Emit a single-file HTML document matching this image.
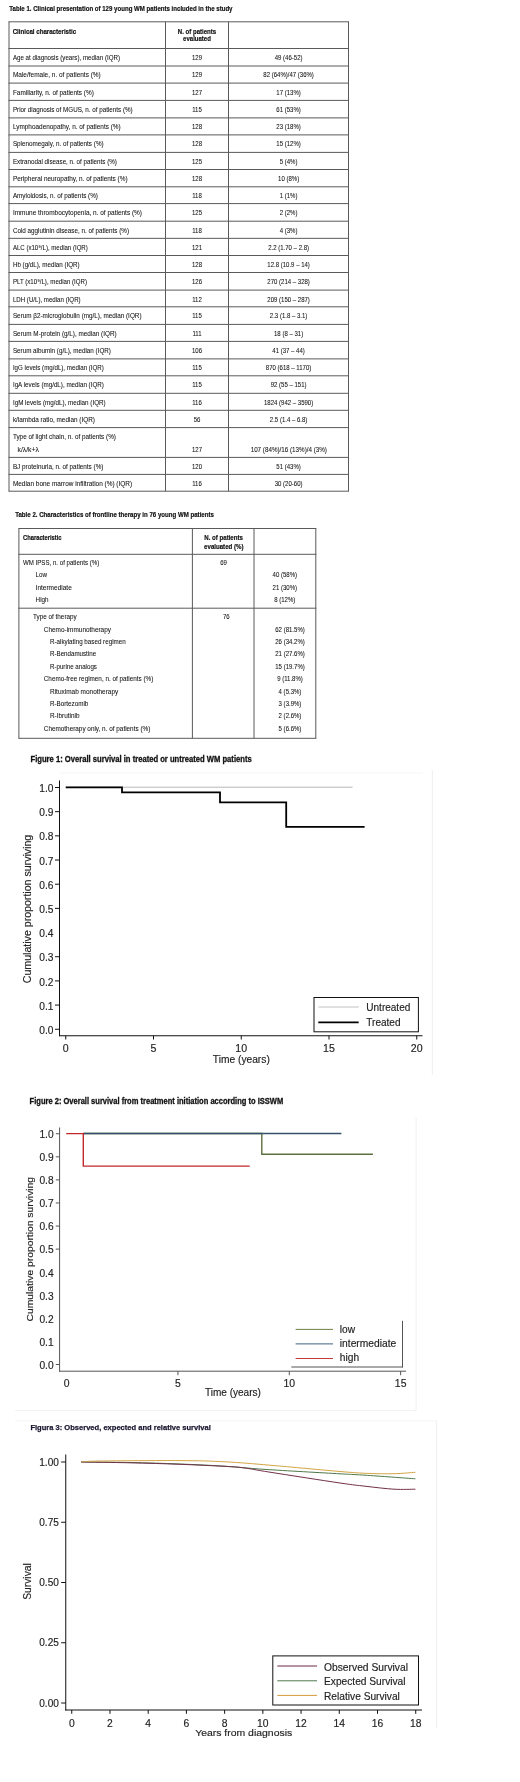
<!DOCTYPE html>
<html><head><meta charset="utf-8"><title>WM patients</title>
<style>
html,body{margin:0;padding:0;background:#fff;}
body{width:520px;height:1782px;overflow:hidden;}
svg{display:block;filter:blur(0.3px);font-family:"Liberation Sans",sans-serif;}
</style></head>
<body>
<svg width="520" height="1782" viewBox="0 0 520 1782" fill="#111">
<rect width="520" height="1782" fill="#fff"/>
<text x="9.3" y="11.2" font-size="6.9" font-weight="bold" textLength="223.2" lengthAdjust="spacingAndGlyphs"  stroke="#111" stroke-width="0.18">Table 1. Clinical presentation of 129 young WM patients included in the study</text>
<line x1="8.5" y1="21.8" x2="349.0" y2="21.8" stroke="#5a5a5a" stroke-width="1.0" />
<line x1="8.5" y1="48.5" x2="349.0" y2="48.5" stroke="#5a5a5a" stroke-width="1.0" />
<line x1="8.5" y1="66" x2="349.0" y2="66" stroke="#5a5a5a" stroke-width="1.0" />
<line x1="8.5" y1="83.1" x2="349.0" y2="83.1" stroke="#5a5a5a" stroke-width="1.0" />
<line x1="8.5" y1="100.4" x2="349.0" y2="100.4" stroke="#5a5a5a" stroke-width="1.0" />
<line x1="8.5" y1="117.9" x2="349.0" y2="117.9" stroke="#5a5a5a" stroke-width="1.0" />
<line x1="8.5" y1="134.9" x2="349.0" y2="134.9" stroke="#5a5a5a" stroke-width="1.0" />
<line x1="8.5" y1="152.4" x2="349.0" y2="152.4" stroke="#5a5a5a" stroke-width="1.0" />
<line x1="8.5" y1="169.5" x2="349.0" y2="169.5" stroke="#5a5a5a" stroke-width="1.0" />
<line x1="8.5" y1="186.8" x2="349.0" y2="186.8" stroke="#5a5a5a" stroke-width="1.0" />
<line x1="8.5" y1="203.6" x2="349.0" y2="203.6" stroke="#5a5a5a" stroke-width="1.0" />
<line x1="8.5" y1="221.2" x2="349.0" y2="221.2" stroke="#5a5a5a" stroke-width="1.0" />
<line x1="8.5" y1="238.35" x2="349.0" y2="238.35" stroke="#5a5a5a" stroke-width="1.0" />
<line x1="8.5" y1="255.5" x2="349.0" y2="255.5" stroke="#5a5a5a" stroke-width="1.0" />
<line x1="8.5" y1="272.5" x2="349.0" y2="272.5" stroke="#5a5a5a" stroke-width="1.0" />
<line x1="8.5" y1="290.1" x2="349.0" y2="290.1" stroke="#5a5a5a" stroke-width="1.0" />
<line x1="8.5" y1="306.8" x2="349.0" y2="306.8" stroke="#5a5a5a" stroke-width="1.0" />
<line x1="8.5" y1="324.4" x2="349.0" y2="324.4" stroke="#5a5a5a" stroke-width="1.0" />
<line x1="8.5" y1="341.4" x2="349.0" y2="341.4" stroke="#5a5a5a" stroke-width="1.0" />
<line x1="8.5" y1="358.9" x2="349.0" y2="358.9" stroke="#5a5a5a" stroke-width="1.0" />
<line x1="8.5" y1="375.8" x2="349.0" y2="375.8" stroke="#5a5a5a" stroke-width="1.0" />
<line x1="8.5" y1="393.3" x2="349.0" y2="393.3" stroke="#5a5a5a" stroke-width="1.0" />
<line x1="8.5" y1="410.3" x2="349.0" y2="410.3" stroke="#5a5a5a" stroke-width="1.0" />
<line x1="8.5" y1="427.6" x2="349.0" y2="427.6" stroke="#5a5a5a" stroke-width="1.0" />
<line x1="8.5" y1="457.4" x2="349.0" y2="457.4" stroke="#5a5a5a" stroke-width="1.0" />
<line x1="8.5" y1="474.4" x2="349.0" y2="474.4" stroke="#5a5a5a" stroke-width="1.0" />
<line x1="8.5" y1="491.2" x2="349.0" y2="491.2" stroke="#5a5a5a" stroke-width="1.0" />
<line x1="9.0" y1="21.8" x2="9.0" y2="491.2" stroke="#5a5a5a" stroke-width="1.0" />
<line x1="165.5" y1="21.8" x2="165.5" y2="491.2" stroke="#5a5a5a" stroke-width="1.0" />
<line x1="228.5" y1="21.8" x2="228.5" y2="491.2" stroke="#5a5a5a" stroke-width="1.0" />
<line x1="348.5" y1="21.8" x2="348.5" y2="491.2" stroke="#5a5a5a" stroke-width="1.0" />
<text x="12.7" y="33.8" font-size="6.9" font-weight="bold" textLength="63.5" lengthAdjust="spacingAndGlyphs"  stroke="#111" stroke-width="0.18">Clinical characteristic</text>
<text x="197" y="33.6" font-size="6.9" font-weight="bold" text-anchor="middle" textLength="38.3" lengthAdjust="spacingAndGlyphs"  stroke="#111" stroke-width="0.18">N. of patients</text>
<text x="197" y="41.2" font-size="6.9" font-weight="bold" text-anchor="middle" textLength="27.8" lengthAdjust="spacingAndGlyphs"  stroke="#111" stroke-width="0.18">evaluated</text>
<text x="12.9" y="59.9" font-size="6.7" textLength="107.1" lengthAdjust="spacingAndGlyphs"  stroke="#111" stroke-width="0.06">Age at diagnosis (years), median (IQR)</text>
<text x="197" y="59.9" font-size="6.7" text-anchor="middle" textLength="10.06" lengthAdjust="spacingAndGlyphs"  stroke="#111" stroke-width="0.06">129</text>
<text x="288.6" y="59.9" font-size="6.7" text-anchor="middle" textLength="27.82" lengthAdjust="spacingAndGlyphs"  stroke="#111" stroke-width="0.06">49 (46-52)</text>
<text x="12.9" y="77.4" font-size="6.7" textLength="87.9" lengthAdjust="spacingAndGlyphs"  stroke="#111" stroke-width="0.06">Male/female, n. of patients (%)</text>
<text x="197" y="77.4" font-size="6.7" text-anchor="middle" textLength="10.06" lengthAdjust="spacingAndGlyphs"  stroke="#111" stroke-width="0.06">129</text>
<text x="288.6" y="77.4" font-size="6.7" text-anchor="middle" textLength="50.61" lengthAdjust="spacingAndGlyphs"  stroke="#111" stroke-width="0.06">82 (64%)/47 (36%)</text>
<text x="12.9" y="94.5" font-size="6.7" textLength="80.9" lengthAdjust="spacingAndGlyphs"  stroke="#111" stroke-width="0.06">Familiarity, n. of patients (%)</text>
<text x="197" y="94.5" font-size="6.7" text-anchor="middle" textLength="10.06" lengthAdjust="spacingAndGlyphs"  stroke="#111" stroke-width="0.06">127</text>
<text x="288.6" y="94.5" font-size="6.7" text-anchor="middle" textLength="24.47" lengthAdjust="spacingAndGlyphs"  stroke="#111" stroke-width="0.06">17 (13%)</text>
<text x="12.9" y="111.8" font-size="6.7" textLength="119.8" lengthAdjust="spacingAndGlyphs"  stroke="#111" stroke-width="0.06">Prior diagnosis of MGUS, n. of patients (%)</text>
<text x="197" y="111.8" font-size="6.7" text-anchor="middle" textLength="9.61" lengthAdjust="spacingAndGlyphs"  stroke="#111" stroke-width="0.06">115</text>
<text x="288.6" y="111.8" font-size="6.7" text-anchor="middle" textLength="24.47" lengthAdjust="spacingAndGlyphs"  stroke="#111" stroke-width="0.06">61 (53%)</text>
<text x="12.9" y="129.3" font-size="6.7" textLength="107.8" lengthAdjust="spacingAndGlyphs"  stroke="#111" stroke-width="0.06">Lymphoadenopathy, n. of patients (%)</text>
<text x="197" y="129.3" font-size="6.7" text-anchor="middle" textLength="10.06" lengthAdjust="spacingAndGlyphs"  stroke="#111" stroke-width="0.06">128</text>
<text x="288.6" y="129.3" font-size="6.7" text-anchor="middle" textLength="24.47" lengthAdjust="spacingAndGlyphs"  stroke="#111" stroke-width="0.06">23 (18%)</text>
<text x="12.9" y="146.3" font-size="6.7" textLength="90.7" lengthAdjust="spacingAndGlyphs"  stroke="#111" stroke-width="0.06">Splenomegaly, n. of patients (%)</text>
<text x="197" y="146.3" font-size="6.7" text-anchor="middle" textLength="10.06" lengthAdjust="spacingAndGlyphs"  stroke="#111" stroke-width="0.06">128</text>
<text x="288.6" y="146.3" font-size="6.7" text-anchor="middle" textLength="24.47" lengthAdjust="spacingAndGlyphs"  stroke="#111" stroke-width="0.06">15 (12%)</text>
<text x="12.9" y="163.8" font-size="6.7" textLength="104.0" lengthAdjust="spacingAndGlyphs"  stroke="#111" stroke-width="0.06">Extranodal disease, n. of patients (%)</text>
<text x="197" y="163.8" font-size="6.7" text-anchor="middle" textLength="10.06" lengthAdjust="spacingAndGlyphs"  stroke="#111" stroke-width="0.06">125</text>
<text x="288.6" y="163.8" font-size="6.7" text-anchor="middle" textLength="17.76" lengthAdjust="spacingAndGlyphs"  stroke="#111" stroke-width="0.06">5 (4%)</text>
<text x="12.9" y="180.9" font-size="6.7" textLength="114.7" lengthAdjust="spacingAndGlyphs"  stroke="#111" stroke-width="0.06">Peripheral neuropathy, n. of patients (%)</text>
<text x="197" y="180.9" font-size="6.7" text-anchor="middle" textLength="10.06" lengthAdjust="spacingAndGlyphs"  stroke="#111" stroke-width="0.06">128</text>
<text x="288.6" y="180.9" font-size="6.7" text-anchor="middle" textLength="21.11" lengthAdjust="spacingAndGlyphs"  stroke="#111" stroke-width="0.06">10 (8%)</text>
<text x="12.9" y="198.2" font-size="6.7" textLength="85.0" lengthAdjust="spacingAndGlyphs"  stroke="#111" stroke-width="0.06">Amyloidosis, n. of patients (%)</text>
<text x="197" y="198.2" font-size="6.7" text-anchor="middle" textLength="9.61" lengthAdjust="spacingAndGlyphs"  stroke="#111" stroke-width="0.06">118</text>
<text x="288.6" y="198.2" font-size="6.7" text-anchor="middle" textLength="17.76" lengthAdjust="spacingAndGlyphs"  stroke="#111" stroke-width="0.06">1 (1%)</text>
<text x="12.9" y="215.0" font-size="6.7" textLength="129.1" lengthAdjust="spacingAndGlyphs"  stroke="#111" stroke-width="0.06">Immune thrombocytopenia, n. of patients (%)</text>
<text x="197" y="215.0" font-size="6.7" text-anchor="middle" textLength="10.06" lengthAdjust="spacingAndGlyphs"  stroke="#111" stroke-width="0.06">125</text>
<text x="288.6" y="215.0" font-size="6.7" text-anchor="middle" textLength="17.76" lengthAdjust="spacingAndGlyphs"  stroke="#111" stroke-width="0.06">2 (2%)</text>
<text x="12.9" y="232.6" font-size="6.7" textLength="116.1" lengthAdjust="spacingAndGlyphs"  stroke="#111" stroke-width="0.06">Cold agglutinin disease, n. of patients (%)</text>
<text x="197" y="232.6" font-size="6.7" text-anchor="middle" textLength="9.61" lengthAdjust="spacingAndGlyphs"  stroke="#111" stroke-width="0.06">118</text>
<text x="288.6" y="232.6" font-size="6.7" text-anchor="middle" textLength="17.76" lengthAdjust="spacingAndGlyphs"  stroke="#111" stroke-width="0.06">4 (3%)</text>
<text x="12.9" y="249.75" font-size="6.7" textLength="74.9" lengthAdjust="spacingAndGlyphs"  stroke="#111" stroke-width="0.06">ALC (x10⁹/L), median (IQR)</text>
<text x="197" y="249.75" font-size="6.7" text-anchor="middle" textLength="10.06" lengthAdjust="spacingAndGlyphs"  stroke="#111" stroke-width="0.06">121</text>
<text x="288.6" y="249.75" font-size="6.7" text-anchor="middle" textLength="40.9" lengthAdjust="spacingAndGlyphs"  stroke="#111" stroke-width="0.06">2.2 (1.70 – 2.8)</text>
<text x="12.9" y="266.9" font-size="6.7" textLength="66.8" lengthAdjust="spacingAndGlyphs"  stroke="#111" stroke-width="0.06">Hb (g/dL), median (IQR)</text>
<text x="197" y="266.9" font-size="6.7" text-anchor="middle" textLength="10.06" lengthAdjust="spacingAndGlyphs"  stroke="#111" stroke-width="0.06">128</text>
<text x="288.6" y="266.9" font-size="6.7" text-anchor="middle" textLength="42.58" lengthAdjust="spacingAndGlyphs"  stroke="#111" stroke-width="0.06">12.8 (10.9 – 14)</text>
<text x="12.9" y="283.9" font-size="6.7" textLength="74.1" lengthAdjust="spacingAndGlyphs"  stroke="#111" stroke-width="0.06">PLT (x10⁹/L), median (IQR)</text>
<text x="197" y="283.9" font-size="6.7" text-anchor="middle" textLength="10.06" lengthAdjust="spacingAndGlyphs"  stroke="#111" stroke-width="0.06">126</text>
<text x="288.6" y="283.9" font-size="6.7" text-anchor="middle" textLength="42.58" lengthAdjust="spacingAndGlyphs"  stroke="#111" stroke-width="0.06">270 (214 – 328)</text>
<text x="12.9" y="301.5" font-size="6.7" textLength="67.7" lengthAdjust="spacingAndGlyphs"  stroke="#111" stroke-width="0.06">LDH (U/L), median (IQR)</text>
<text x="197" y="301.5" font-size="6.7" text-anchor="middle" textLength="9.61" lengthAdjust="spacingAndGlyphs"  stroke="#111" stroke-width="0.06">112</text>
<text x="288.6" y="301.5" font-size="6.7" text-anchor="middle" textLength="42.58" lengthAdjust="spacingAndGlyphs"  stroke="#111" stroke-width="0.06">209 (150 – 287)</text>
<text x="12.9" y="318.2" font-size="6.7" textLength="128.6" lengthAdjust="spacingAndGlyphs"  stroke="#111" stroke-width="0.06">Serum β2-microglobulin (mg/L), median (IQR)</text>
<text x="197" y="318.2" font-size="6.7" text-anchor="middle" textLength="9.61" lengthAdjust="spacingAndGlyphs"  stroke="#111" stroke-width="0.06">115</text>
<text x="288.6" y="318.2" font-size="6.7" text-anchor="middle" textLength="37.54" lengthAdjust="spacingAndGlyphs"  stroke="#111" stroke-width="0.06">2.3 (1.8 – 3.1)</text>
<text x="12.9" y="335.8" font-size="6.7" textLength="103.7" lengthAdjust="spacingAndGlyphs"  stroke="#111" stroke-width="0.06">Serum M-protein (g/L), median (IQR)</text>
<text x="197" y="335.8" font-size="6.7" text-anchor="middle" textLength="9.17" lengthAdjust="spacingAndGlyphs"  stroke="#111" stroke-width="0.06">111</text>
<text x="288.6" y="335.8" font-size="6.7" text-anchor="middle" textLength="29.16" lengthAdjust="spacingAndGlyphs"  stroke="#111" stroke-width="0.06">18 (8 – 31)</text>
<text x="12.9" y="352.8" font-size="6.7" textLength="98.0" lengthAdjust="spacingAndGlyphs"  stroke="#111" stroke-width="0.06">Serum albumin (g/L), median (IQR)</text>
<text x="197" y="352.8" font-size="6.7" text-anchor="middle" textLength="10.06" lengthAdjust="spacingAndGlyphs"  stroke="#111" stroke-width="0.06">106</text>
<text x="288.6" y="352.8" font-size="6.7" text-anchor="middle" textLength="32.52" lengthAdjust="spacingAndGlyphs"  stroke="#111" stroke-width="0.06">41 (37 – 44)</text>
<text x="12.9" y="370.3" font-size="6.7" textLength="91.0" lengthAdjust="spacingAndGlyphs"  stroke="#111" stroke-width="0.06">IgG levels (mg/dL), median (IQR)</text>
<text x="197" y="370.3" font-size="6.7" text-anchor="middle" textLength="9.61" lengthAdjust="spacingAndGlyphs"  stroke="#111" stroke-width="0.06">115</text>
<text x="288.6" y="370.3" font-size="6.7" text-anchor="middle" textLength="45.48" lengthAdjust="spacingAndGlyphs"  stroke="#111" stroke-width="0.06">870 (618 – 1170)</text>
<text x="12.9" y="387.2" font-size="6.7" textLength="91.0" lengthAdjust="spacingAndGlyphs"  stroke="#111" stroke-width="0.06">IgA levels (mg/dL), median (IQR)</text>
<text x="197" y="387.2" font-size="6.7" text-anchor="middle" textLength="9.61" lengthAdjust="spacingAndGlyphs"  stroke="#111" stroke-width="0.06">115</text>
<text x="288.6" y="387.2" font-size="6.7" text-anchor="middle" textLength="35.87" lengthAdjust="spacingAndGlyphs"  stroke="#111" stroke-width="0.06">92 (55 – 151)</text>
<text x="12.9" y="404.7" font-size="6.7" textLength="92.8" lengthAdjust="spacingAndGlyphs"  stroke="#111" stroke-width="0.06">IgM levels (mg/dL), median (IQR)</text>
<text x="197" y="404.7" font-size="6.7" text-anchor="middle" textLength="9.61" lengthAdjust="spacingAndGlyphs"  stroke="#111" stroke-width="0.06">116</text>
<text x="288.6" y="404.7" font-size="6.7" text-anchor="middle" textLength="49.29" lengthAdjust="spacingAndGlyphs"  stroke="#111" stroke-width="0.06">1824 (942 – 3590)</text>
<text x="12.9" y="421.7" font-size="6.7" textLength="82.0" lengthAdjust="spacingAndGlyphs"  stroke="#111" stroke-width="0.06">k/lambda ratio, median (IQR)</text>
<text x="197" y="421.7" font-size="6.7" text-anchor="middle" textLength="6.71" lengthAdjust="spacingAndGlyphs"  stroke="#111" stroke-width="0.06">56</text>
<text x="288.6" y="421.7" font-size="6.7" text-anchor="middle" textLength="37.54" lengthAdjust="spacingAndGlyphs"  stroke="#111" stroke-width="0.06">2.5 (1.4 – 6.8)</text>
<text x="12.9" y="439.2" font-size="6.7" textLength="103.1" lengthAdjust="spacingAndGlyphs"  stroke="#111" stroke-width="0.06">Type of light chain, n. of patients (%)</text>
<text x="17.6" y="451.6" font-size="6.7" textLength="21.2" lengthAdjust="spacingAndGlyphs"  stroke="#111" stroke-width="0.06">k/λ/k+λ</text>
<text x="197" y="451.8" font-size="6.7" text-anchor="middle" textLength="10.06" lengthAdjust="spacingAndGlyphs"  stroke="#111" stroke-width="0.06">127</text>
<text x="288.8" y="451.8" font-size="6.7" text-anchor="middle" textLength="76.3" lengthAdjust="spacingAndGlyphs"  stroke="#111" stroke-width="0.06">107 (84%)/16 (13%)/4 (3%)</text>
<text x="12.9" y="468.8" font-size="6.7" textLength="90.5" lengthAdjust="spacingAndGlyphs"  stroke="#111" stroke-width="0.06">BJ proteinuria, n. of patients (%)</text>
<text x="197" y="468.8" font-size="6.7" text-anchor="middle" textLength="10.06" lengthAdjust="spacingAndGlyphs"  stroke="#111" stroke-width="0.06">120</text>
<text x="288.6" y="468.8" font-size="6.7" text-anchor="middle" textLength="24.47" lengthAdjust="spacingAndGlyphs"  stroke="#111" stroke-width="0.06">51 (43%)</text>
<text x="12.9" y="485.8" font-size="6.7" textLength="119.2" lengthAdjust="spacingAndGlyphs"  stroke="#111" stroke-width="0.06">Median bone marrow infiltration (%) (IQR)</text>
<text x="197" y="485.8" font-size="6.7" text-anchor="middle" textLength="9.61" lengthAdjust="spacingAndGlyphs"  stroke="#111" stroke-width="0.06">116</text>
<text x="288.6" y="485.8" font-size="6.7" text-anchor="middle" textLength="27.82" lengthAdjust="spacingAndGlyphs"  stroke="#111" stroke-width="0.06">30 (20-60)</text>
<text x="15.2" y="517.1" font-size="6.9" font-weight="bold" textLength="198.7" lengthAdjust="spacingAndGlyphs"  stroke="#111" stroke-width="0.18">Table 2. Characteristics of frontline therapy in 76 young WM patients</text>
<line x1="18.4" y1="528.5" x2="316.3" y2="528.5" stroke="#5a5a5a" stroke-width="1.0" />
<line x1="18.4" y1="554.3" x2="316.3" y2="554.3" stroke="#5a5a5a" stroke-width="1.0" />
<line x1="18.4" y1="608.2" x2="316.3" y2="608.2" stroke="#5a5a5a" stroke-width="1.0" />
<line x1="18.4" y1="738.3" x2="316.3" y2="738.3" stroke="#5a5a5a" stroke-width="1.0" />
<line x1="18.9" y1="528.5" x2="18.9" y2="738.3" stroke="#5a5a5a" stroke-width="1.0" />
<line x1="192.4" y1="528.5" x2="192.4" y2="738.3" stroke="#5a5a5a" stroke-width="1.0" />
<line x1="254.0" y1="528.5" x2="254.0" y2="738.3" stroke="#5a5a5a" stroke-width="1.0" />
<line x1="315.8" y1="528.5" x2="315.8" y2="738.3" stroke="#5a5a5a" stroke-width="1.0" />
<text x="23" y="539.9" font-size="6.9" font-weight="bold" textLength="38.6" lengthAdjust="spacingAndGlyphs"  stroke="#111" stroke-width="0.18">Characteristic</text>
<text x="223.6" y="540.0" font-size="6.9" font-weight="bold" text-anchor="middle" textLength="38.6" lengthAdjust="spacingAndGlyphs"  stroke="#111" stroke-width="0.18">N. of patients</text>
<text x="223.8" y="548.5" font-size="6.9" font-weight="bold" text-anchor="middle" textLength="39.4" lengthAdjust="spacingAndGlyphs"  stroke="#111" stroke-width="0.18">evaluated (%)</text>
<text x="23" y="564.9" font-size="6.7" textLength="76.2" lengthAdjust="spacingAndGlyphs"  stroke="#111" stroke-width="0.06">WM IPSS, n. of patients (%)</text>
<text x="223.6" y="565.0" font-size="6.7" text-anchor="middle" textLength="6.71" lengthAdjust="spacingAndGlyphs"  stroke="#111" stroke-width="0.06">69</text>
<text x="35.6" y="577.4" font-size="6.7" textLength="11.52" lengthAdjust="spacingAndGlyphs"  stroke="#111" stroke-width="0.06">Low</text>
<text x="284.8" y="577.4" font-size="6.7" text-anchor="middle" textLength="24.47" lengthAdjust="spacingAndGlyphs"  stroke="#111" stroke-width="0.06">40 (58%)</text>
<text x="35.6" y="589.9" font-size="6.7" textLength="36.2" lengthAdjust="spacingAndGlyphs"  stroke="#111" stroke-width="0.06">Intermediate</text>
<text x="284.8" y="589.9" font-size="6.7" text-anchor="middle" textLength="24.47" lengthAdjust="spacingAndGlyphs"  stroke="#111" stroke-width="0.06">21 (30%)</text>
<text x="35.6" y="602.3" font-size="6.7" textLength="12.92" lengthAdjust="spacingAndGlyphs"  stroke="#111" stroke-width="0.06">High</text>
<text x="284.8" y="602.3" font-size="6.7" text-anchor="middle" textLength="21.11" lengthAdjust="spacingAndGlyphs"  stroke="#111" stroke-width="0.06">8 (12%)</text>
<text x="33.1" y="619.2" font-size="6.7" textLength="43.6" lengthAdjust="spacingAndGlyphs"  stroke="#111" stroke-width="0.06">Type of therapy</text>
<text x="226.3" y="619.2" font-size="6.7" text-anchor="middle" textLength="6.71" lengthAdjust="spacingAndGlyphs"  stroke="#111" stroke-width="0.06">76</text>
<text x="43.8" y="631.5" font-size="6.7" textLength="67.2" lengthAdjust="spacingAndGlyphs"  stroke="#111" stroke-width="0.06">Chemo-immunotherapy</text>
<text x="290.0" y="631.5" font-size="6.7" text-anchor="middle" textLength="29.5" lengthAdjust="spacingAndGlyphs"  stroke="#111" stroke-width="0.06">62 (81.5%)</text>
<text x="50" y="643.91" font-size="6.7" textLength="75.7" lengthAdjust="spacingAndGlyphs"  stroke="#111" stroke-width="0.06">R-alkylating based regimen</text>
<text x="290.0" y="643.91" font-size="6.7" text-anchor="middle" textLength="29.5" lengthAdjust="spacingAndGlyphs"  stroke="#111" stroke-width="0.06">26 (34.2%)</text>
<text x="50" y="656.32" font-size="6.7" textLength="46.1" lengthAdjust="spacingAndGlyphs"  stroke="#111" stroke-width="0.06">R-Bendamustine</text>
<text x="290.0" y="656.32" font-size="6.7" text-anchor="middle" textLength="29.5" lengthAdjust="spacingAndGlyphs"  stroke="#111" stroke-width="0.06">21 (27.6%)</text>
<text x="50" y="668.73" font-size="6.7" textLength="46.9" lengthAdjust="spacingAndGlyphs"  stroke="#111" stroke-width="0.06">R-purine analogs</text>
<text x="290.0" y="668.73" font-size="6.7" text-anchor="middle" textLength="29.5" lengthAdjust="spacingAndGlyphs"  stroke="#111" stroke-width="0.06">15 (19.7%)</text>
<text x="43.8" y="681.14" font-size="6.7" textLength="109.5" lengthAdjust="spacingAndGlyphs"  stroke="#111" stroke-width="0.06">Chemo-free regimen, n. of patients (%)</text>
<text x="290.0" y="681.14" font-size="6.7" text-anchor="middle" textLength="25.7" lengthAdjust="spacingAndGlyphs"  stroke="#111" stroke-width="0.06">9 (11.8%)</text>
<text x="50" y="693.55" font-size="6.7" textLength="68.3" lengthAdjust="spacingAndGlyphs"  stroke="#111" stroke-width="0.06">Rituximab monotherapy</text>
<text x="290.0" y="693.55" font-size="6.7" text-anchor="middle" textLength="22.79" lengthAdjust="spacingAndGlyphs"  stroke="#111" stroke-width="0.06">4 (5.3%)</text>
<text x="50" y="705.96" font-size="6.7" textLength="38.3" lengthAdjust="spacingAndGlyphs"  stroke="#111" stroke-width="0.06">R-Bortezomib</text>
<text x="290.0" y="705.96" font-size="6.7" text-anchor="middle" textLength="22.79" lengthAdjust="spacingAndGlyphs"  stroke="#111" stroke-width="0.06">3 (3.9%)</text>
<text x="50" y="718.37" font-size="6.7" textLength="29.5" lengthAdjust="spacingAndGlyphs"  stroke="#111" stroke-width="0.06">R-Ibrutinib</text>
<text x="290.0" y="718.37" font-size="6.7" text-anchor="middle" textLength="22.79" lengthAdjust="spacingAndGlyphs"  stroke="#111" stroke-width="0.06">2 (2.6%)</text>
<text x="43.8" y="730.78" font-size="6.7" textLength="106.5" lengthAdjust="spacingAndGlyphs"  stroke="#111" stroke-width="0.06">Chemotherapy only, n. of patients (%)</text>
<text x="290.0" y="730.78" font-size="6.7" text-anchor="middle" textLength="22.79" lengthAdjust="spacingAndGlyphs"  stroke="#111" stroke-width="0.06">5 (6.6%)</text>
<text x="30.5" y="761.9" font-size="8.6" font-weight="bold" textLength="221.2" lengthAdjust="spacingAndGlyphs"  stroke="#111" stroke-width="0.3">Figure 1: Overall survival in treated or untreated WM patients</text>
<line x1="432.3" y1="770" x2="432.3" y2="1075" stroke="#eeeeee" stroke-width="1"/>
<line x1="60" y1="773" x2="422.6" y2="773" stroke="#f6f6f6" stroke-width="1"/>
<line x1="59.5" y1="780.5" x2="59.5" y2="1036.25" stroke="#111" stroke-width="1.0" />
<line x1="59.0" y1="1035.75" x2="422.5" y2="1035.75" stroke="#111" stroke-width="1.0" />
<line x1="55.0" y1="787.5" x2="59.5" y2="787.5" stroke="#111" stroke-width="1.0" />
<text x="53.4" y="792.1" font-size="10.2" text-anchor="end" fill="#222" stroke="#222" stroke-width="0.15">1.0</text>
<line x1="55.0" y1="811.67" x2="59.5" y2="811.67" stroke="#111" stroke-width="1.0" />
<text x="53.4" y="816.27" font-size="10.2" text-anchor="end" fill="#222" stroke="#222" stroke-width="0.15">0.9</text>
<line x1="55.0" y1="835.85" x2="59.5" y2="835.85" stroke="#111" stroke-width="1.0" />
<text x="53.4" y="840.45" font-size="10.2" text-anchor="end" fill="#222" stroke="#222" stroke-width="0.15">0.8</text>
<line x1="55.0" y1="860.02" x2="59.5" y2="860.02" stroke="#111" stroke-width="1.0" />
<text x="53.4" y="864.62" font-size="10.2" text-anchor="end" fill="#222" stroke="#222" stroke-width="0.15">0.7</text>
<line x1="55.0" y1="884.2" x2="59.5" y2="884.2" stroke="#111" stroke-width="1.0" />
<text x="53.4" y="888.8" font-size="10.2" text-anchor="end" fill="#222" stroke="#222" stroke-width="0.15">0.6</text>
<line x1="55.0" y1="908.38" x2="59.5" y2="908.38" stroke="#111" stroke-width="1.0" />
<text x="53.4" y="912.98" font-size="10.2" text-anchor="end" fill="#222" stroke="#222" stroke-width="0.15">0.5</text>
<text x="53.4" y="937.15" font-size="10.2" text-anchor="end" fill="#222" stroke="#222" stroke-width="0.15">0.4</text>
<line x1="55.0" y1="956.73" x2="59.5" y2="956.73" stroke="#111" stroke-width="1.0" />
<text x="53.4" y="961.33" font-size="10.2" text-anchor="end" fill="#222" stroke="#222" stroke-width="0.15">0.3</text>
<line x1="55.0" y1="980.9" x2="59.5" y2="980.9" stroke="#111" stroke-width="1.0" />
<text x="53.4" y="985.5" font-size="10.2" text-anchor="end" fill="#222" stroke="#222" stroke-width="0.15">0.2</text>
<line x1="55.0" y1="1005.08" x2="59.5" y2="1005.08" stroke="#111" stroke-width="1.0" />
<text x="53.4" y="1009.68" font-size="10.2" text-anchor="end" fill="#222" stroke="#222" stroke-width="0.15">0.1</text>
<line x1="55.0" y1="1029.25" x2="59.5" y2="1029.25" stroke="#111" stroke-width="1.0" />
<text x="53.4" y="1033.85" font-size="10.2" text-anchor="end" fill="#222" stroke="#222" stroke-width="0.15">0.0</text>
<line x1="65.75" y1="1035.75" x2="65.75" y2="1039.5" stroke="#111" stroke-width="1.0" />
<text x="65.75" y="1052.3" font-size="10.6" text-anchor="middle" fill="#222" stroke="#222" stroke-width="0.15">0</text>
<line x1="153.5" y1="1035.75" x2="153.5" y2="1039.5" stroke="#111" stroke-width="1.0" />
<text x="153.5" y="1052.3" font-size="10.6" text-anchor="middle" fill="#222" stroke="#222" stroke-width="0.15">5</text>
<line x1="241.25" y1="1035.75" x2="241.25" y2="1039.5" stroke="#111" stroke-width="1.0" />
<text x="241.25" y="1052.3" font-size="10.6" text-anchor="middle" fill="#222" stroke="#222" stroke-width="0.15">10</text>
<line x1="329.0" y1="1035.75" x2="329.0" y2="1039.5" stroke="#111" stroke-width="1.0" />
<text x="329.0" y="1052.3" font-size="10.6" text-anchor="middle" fill="#222" stroke="#222" stroke-width="0.15">15</text>
<line x1="416.75" y1="1035.75" x2="416.75" y2="1039.5" stroke="#111" stroke-width="1.0" />
<text x="416.75" y="1052.3" font-size="10.6" text-anchor="middle" fill="#222" stroke="#222" stroke-width="0.15">20</text>
<text x="241.3" y="1062.6" font-size="10.2" text-anchor="middle" textLength="57" lengthAdjust="spacingAndGlyphs" fill="#222" stroke="#222" stroke-width="0.15">Time (years)</text>
<text x="30.8" y="909" font-size="10.0" text-anchor="middle" textLength="148.5" lengthAdjust="spacingAndGlyphs" fill="#222" stroke="#222" stroke-width="0.15" transform="rotate(-90 30.8 909)">Cumulative proportion surviving</text>
<polyline points="65.75,787.2 352.5,787.2" fill="none" stroke="#b8b8b8" stroke-width="1.0" />
<polyline points="65.75,787.3 122,787.3 122,792.3 220,792.3 220,802.4 286.2,802.4 286.2,826.8 364.6,826.8" fill="none" stroke="#000" stroke-width="1.8" />
<rect x="314" y="997.5" width="104.4" height="34.3" fill="none" stroke="#111" stroke-width="1"/>
<line x1="318.3" y1="1007" x2="358.7" y2="1007" stroke="#c0c0c0" stroke-width="1.0" />
<line x1="318.3" y1="1022.3" x2="358.7" y2="1022.3" stroke="#000" stroke-width="1.8" />
<text x="366.3" y="1011.4" font-size="10.2" textLength="44" lengthAdjust="spacingAndGlyphs" fill="#222" stroke="#222" stroke-width="0.15">Untreated</text>
<text x="366.3" y="1025.7" font-size="10.2" textLength="34.2" lengthAdjust="spacingAndGlyphs" fill="#222" stroke="#222" stroke-width="0.15">Treated</text>
<text x="29.6" y="1104.2" font-size="8.6" font-weight="bold" textLength="253.6" lengthAdjust="spacingAndGlyphs"  stroke="#111" stroke-width="0.3">Figure 2: Overall survival from treatment initiation according to ISSWM</text>
<line x1="416.1" y1="1117.8" x2="416.1" y2="1410.6" stroke="#efefef" stroke-width="1"/>
<line x1="15" y1="1410.6" x2="416.1" y2="1410.6" stroke="#f2f2f2" stroke-width="1"/>
<line x1="59.6" y1="1127.5" x2="59.6" y2="1371.7" stroke="#555" stroke-width="1.0" />
<line x1="59.1" y1="1371.2" x2="406" y2="1371.2" stroke="#555" stroke-width="1.0" />
<line x1="55.8" y1="1133.75" x2="59.6" y2="1133.75" stroke="#555" stroke-width="1.0" />
<text x="53.6" y="1138.05" font-size="10.2" text-anchor="end" fill="#222" stroke="#222" stroke-width="0.15">1.0</text>
<line x1="55.8" y1="1156.83" x2="59.6" y2="1156.83" stroke="#555" stroke-width="1.0" />
<text x="53.6" y="1161.13" font-size="10.2" text-anchor="end" fill="#222" stroke="#222" stroke-width="0.15">0.9</text>
<line x1="55.8" y1="1179.9" x2="59.6" y2="1179.9" stroke="#555" stroke-width="1.0" />
<text x="53.6" y="1184.2" font-size="10.2" text-anchor="end" fill="#222" stroke="#222" stroke-width="0.15">0.8</text>
<line x1="55.8" y1="1202.97" x2="59.6" y2="1202.97" stroke="#555" stroke-width="1.0" />
<text x="53.6" y="1207.27" font-size="10.2" text-anchor="end" fill="#222" stroke="#222" stroke-width="0.15">0.7</text>
<line x1="55.8" y1="1226.05" x2="59.6" y2="1226.05" stroke="#555" stroke-width="1.0" />
<text x="53.6" y="1230.35" font-size="10.2" text-anchor="end" fill="#222" stroke="#222" stroke-width="0.15">0.6</text>
<line x1="55.8" y1="1249.12" x2="59.6" y2="1249.12" stroke="#555" stroke-width="1.0" />
<text x="53.6" y="1253.42" font-size="10.2" text-anchor="end" fill="#222" stroke="#222" stroke-width="0.15">0.5</text>
<text x="53.6" y="1276.5" font-size="10.2" text-anchor="end" fill="#222" stroke="#222" stroke-width="0.15">0.4</text>
<text x="53.6" y="1299.58" font-size="10.2" text-anchor="end" fill="#222" stroke="#222" stroke-width="0.15">0.3</text>
<text x="53.6" y="1322.65" font-size="10.2" text-anchor="end" fill="#222" stroke="#222" stroke-width="0.15">0.2</text>
<text x="53.6" y="1345.72" font-size="10.2" text-anchor="end" fill="#222" stroke="#222" stroke-width="0.15">0.1</text>
<line x1="55.8" y1="1364.5" x2="59.6" y2="1364.5" stroke="#555" stroke-width="1.0" />
<text x="53.6" y="1368.8" font-size="10.2" text-anchor="end" fill="#222" stroke="#222" stroke-width="0.15">0.0</text>
<text x="66.6" y="1386.5" font-size="10.4" text-anchor="middle" fill="#222" stroke="#222" stroke-width="0.15">0</text>
<line x1="177.95" y1="1371.2" x2="177.95" y2="1375.2" stroke="#555" stroke-width="1.0" />
<text x="177.95" y="1386.5" font-size="10.4" text-anchor="middle" fill="#222" stroke="#222" stroke-width="0.15">5</text>
<line x1="289.3" y1="1371.2" x2="289.3" y2="1375.2" stroke="#555" stroke-width="1.0" />
<text x="289.3" y="1386.5" font-size="10.4" text-anchor="middle" fill="#222" stroke="#222" stroke-width="0.15">10</text>
<line x1="400.65" y1="1371.2" x2="400.65" y2="1375.2" stroke="#555" stroke-width="1.0" />
<text x="400.65" y="1386.5" font-size="10.4" text-anchor="middle" fill="#222" stroke="#222" stroke-width="0.15">15</text>
<text x="232.9" y="1396" font-size="10.2" text-anchor="middle" textLength="56" lengthAdjust="spacingAndGlyphs" fill="#222" stroke="#222" stroke-width="0.15">Time (years)</text>
<text x="32.9" y="1249.2" font-size="9.5" text-anchor="middle" textLength="144.5" lengthAdjust="spacingAndGlyphs" fill="#222" stroke="#222" stroke-width="0.15" transform="rotate(-90 32.9 1249.2)">Cumulative proportion surviving</text>
<polyline points="83.3,1133.5 261.8,1133.5 261.8,1154.2 372.9,1154.2" fill="none" stroke="#5d7040" stroke-width="1.4" />
<polyline points="83.3,1133.5 341.4,1133.5" fill="none" stroke="#34506a" stroke-width="1.4" />
<polyline points="66.2,1133.6 83.3,1133.6 83.3,1166.1 249.7,1166.1" fill="none" stroke="#c0282c" stroke-width="1.4" />
<line x1="291.3" y1="1367" x2="402.8" y2="1367" stroke="#555" stroke-width="1.0" />
<line x1="402.5" y1="1320.8" x2="402.5" y2="1367.5" stroke="#555" stroke-width="1.0" />
<line x1="295.6" y1="1329.4" x2="333" y2="1329.4" stroke="#6f7f45" stroke-width="1.0" />
<line x1="295.6" y1="1343.9" x2="333" y2="1343.9" stroke="#42627f" stroke-width="1.0" />
<line x1="295.6" y1="1358.5" x2="333" y2="1358.5" stroke="#c23a3a" stroke-width="1.0" />
<text x="339.8" y="1332.9" font-size="10.2" fill="#222" stroke="#222" stroke-width="0.15">low</text>
<text x="339.8" y="1347.3" font-size="10.2" textLength="56.5" lengthAdjust="spacingAndGlyphs" fill="#222" stroke="#222" stroke-width="0.15">intermediate</text>
<text x="339.8" y="1361.3" font-size="10.2" fill="#222" stroke="#222" stroke-width="0.15">high</text>
<text x="30.4" y="1429.6" font-size="7.8" font-weight="bold" textLength="180.4" lengthAdjust="spacingAndGlyphs" fill="#1a1830"  stroke="#1a1830" stroke-width="0.25">Figura 3:  Observed, expected and relative survival</text>
<line x1="436.6" y1="1420.8" x2="436.6" y2="1728" stroke="#eeeeee" stroke-width="1"/>
<line x1="15" y1="1420.8" x2="436.6" y2="1420.8" stroke="#f6f6f6" stroke-width="1"/>
<line x1="65.75" y1="1454.5" x2="65.75" y2="1710.5" stroke="#111" stroke-width="1.0" />
<line x1="65.25" y1="1710.0" x2="422" y2="1710.0" stroke="#111" stroke-width="1.0" />
<line x1="61.2" y1="1462" x2="65.75" y2="1462" stroke="#111" stroke-width="1.0" />
<text x="58.9" y="1465.7" font-size="10.1" text-anchor="end" fill="#222" stroke="#222" stroke-width="0.15">1.00</text>
<line x1="61.2" y1="1522.25" x2="65.75" y2="1522.25" stroke="#111" stroke-width="1.0" />
<text x="58.9" y="1525.95" font-size="10.1" text-anchor="end" fill="#222" stroke="#222" stroke-width="0.15">0.75</text>
<line x1="61.2" y1="1582.5" x2="65.75" y2="1582.5" stroke="#111" stroke-width="1.0" />
<text x="58.9" y="1586.2" font-size="10.1" text-anchor="end" fill="#222" stroke="#222" stroke-width="0.15">0.50</text>
<line x1="61.2" y1="1642.75" x2="65.75" y2="1642.75" stroke="#111" stroke-width="1.0" />
<text x="58.9" y="1646.45" font-size="10.1" text-anchor="end" fill="#222" stroke="#222" stroke-width="0.15">0.25</text>
<line x1="61.2" y1="1703" x2="65.75" y2="1703" stroke="#111" stroke-width="1.0" />
<text x="58.9" y="1706.7" font-size="10.1" text-anchor="end" fill="#222" stroke="#222" stroke-width="0.15">0.00</text>
<line x1="71.75" y1="1710.0" x2="71.75" y2="1713.8" stroke="#111" stroke-width="1.0" />
<text x="71.75" y="1726.7" font-size="10.3" text-anchor="middle" fill="#222" stroke="#222" stroke-width="0.15">0</text>
<line x1="109.97" y1="1710.0" x2="109.97" y2="1713.8" stroke="#111" stroke-width="1.0" />
<text x="109.97" y="1726.7" font-size="10.3" text-anchor="middle" fill="#222" stroke="#222" stroke-width="0.15">2</text>
<line x1="148.19" y1="1710.0" x2="148.19" y2="1713.8" stroke="#111" stroke-width="1.0" />
<text x="148.19" y="1726.7" font-size="10.3" text-anchor="middle" fill="#222" stroke="#222" stroke-width="0.15">4</text>
<line x1="186.41" y1="1710.0" x2="186.41" y2="1713.8" stroke="#111" stroke-width="1.0" />
<text x="186.41" y="1726.7" font-size="10.3" text-anchor="middle" fill="#222" stroke="#222" stroke-width="0.15">6</text>
<line x1="224.63" y1="1710.0" x2="224.63" y2="1713.8" stroke="#111" stroke-width="1.0" />
<text x="224.63" y="1726.7" font-size="10.3" text-anchor="middle" fill="#222" stroke="#222" stroke-width="0.15">8</text>
<line x1="262.85" y1="1710.0" x2="262.85" y2="1713.8" stroke="#111" stroke-width="1.0" />
<text x="262.85" y="1726.7" font-size="10.3" text-anchor="middle" fill="#222" stroke="#222" stroke-width="0.15">10</text>
<line x1="301.07" y1="1710.0" x2="301.07" y2="1713.8" stroke="#111" stroke-width="1.0" />
<text x="301.07" y="1726.7" font-size="10.3" text-anchor="middle" fill="#222" stroke="#222" stroke-width="0.15">12</text>
<line x1="339.29" y1="1710.0" x2="339.29" y2="1713.8" stroke="#111" stroke-width="1.0" />
<text x="339.29" y="1726.7" font-size="10.3" text-anchor="middle" fill="#222" stroke="#222" stroke-width="0.15">14</text>
<line x1="377.51" y1="1710.0" x2="377.51" y2="1713.8" stroke="#111" stroke-width="1.0" />
<text x="377.51" y="1726.7" font-size="10.3" text-anchor="middle" fill="#222" stroke="#222" stroke-width="0.15">16</text>
<line x1="415.73" y1="1710.0" x2="415.73" y2="1713.8" stroke="#111" stroke-width="1.0" />
<text x="415.73" y="1726.7" font-size="10.3" text-anchor="middle" fill="#222" stroke="#222" stroke-width="0.15">18</text>
<text x="243.7" y="1735.6" font-size="9.9" text-anchor="middle" textLength="97" lengthAdjust="spacingAndGlyphs" fill="#222" stroke="#222" stroke-width="0.15">Years from diagnosis</text>
<text x="30.5" y="1581.5" font-size="10.3" text-anchor="middle" textLength="36.5" lengthAdjust="spacingAndGlyphs" fill="#222" stroke="#222" stroke-width="0.15" transform="rotate(-90 30.5 1581.5)">Survival</text>
<path d="M81,1462 C89.17,1462.08 113.50,1462.17 130,1462.5 C146.50,1462.83 164.17,1463.38 180,1464 C195.83,1464.62 210.83,1465.30 225,1466.2 C239.17,1467.10 245.83,1468.13 265,1469.4 C284.17,1470.67 323.33,1472.83 340,1473.8 C356.67,1474.77 352.43,1474.37 365,1475.2 C377.57,1476.03 407.00,1478.20 415.4,1478.8" fill="none" stroke="#4f7848" stroke-width="1.0"/>
<path d="M81,1462 C89.17,1462.13 113.50,1462.42 130,1462.8 C146.50,1463.18 164.17,1463.70 180,1464.3 C195.83,1464.90 214.33,1465.80 225,1466.4 C235.67,1467.00 236.50,1466.93 244,1467.9 C251.50,1468.87 254.00,1469.68 270,1472.2 C286.00,1474.72 324.17,1480.67 340,1483 C355.83,1485.33 356.00,1485.17 365,1486.2 C374.00,1487.23 385.60,1488.70 394,1489.2 C402.40,1489.70 411.83,1489.20 415.4,1489.2" fill="none" stroke="#72304a" stroke-width="1.0"/>
<path d="M81,1462 C84.17,1461.83 83.50,1461.23 100,1461 C116.50,1460.77 159.17,1460.47 180,1460.6 C200.83,1460.73 210.00,1461.03 225,1461.8 C240.00,1462.57 250.83,1463.58 270,1465.2 C289.17,1466.82 323.67,1470.13 340,1471.5 C356.33,1472.87 359.00,1473.03 368,1473.4 C377.00,1473.77 386.10,1473.88 394,1473.7 C401.90,1473.52 411.83,1472.53 415.4,1472.3" fill="none" stroke="#d4a544" stroke-width="1.0"/>
<rect x="272.8" y="1655.9" width="145.7" height="49.1" fill="none" stroke="#111" stroke-width="1"/>
<line x1="277.3" y1="1666" x2="317.1" y2="1666" stroke="#6a2a48" stroke-width="1.0" />
<line x1="277.3" y1="1680.8" x2="317.1" y2="1680.8" stroke="#4f7850" stroke-width="1.0" />
<line x1="277.3" y1="1695.4" x2="317.1" y2="1695.4" stroke="#d49a3a" stroke-width="1.0" />
<text x="324" y="1670.5" font-size="10.2" textLength="84.0" lengthAdjust="spacingAndGlyphs" fill="#222" stroke="#222" stroke-width="0.15">Observed Survival</text>
<text x="324" y="1685.2" font-size="10.2" fill="#222" stroke="#222" stroke-width="0.15">Expected Survival</text>
<text x="324" y="1699.9" font-size="10.2" fill="#222" stroke="#222" stroke-width="0.15">Relative Survival</text>
</svg>
</body></html>
